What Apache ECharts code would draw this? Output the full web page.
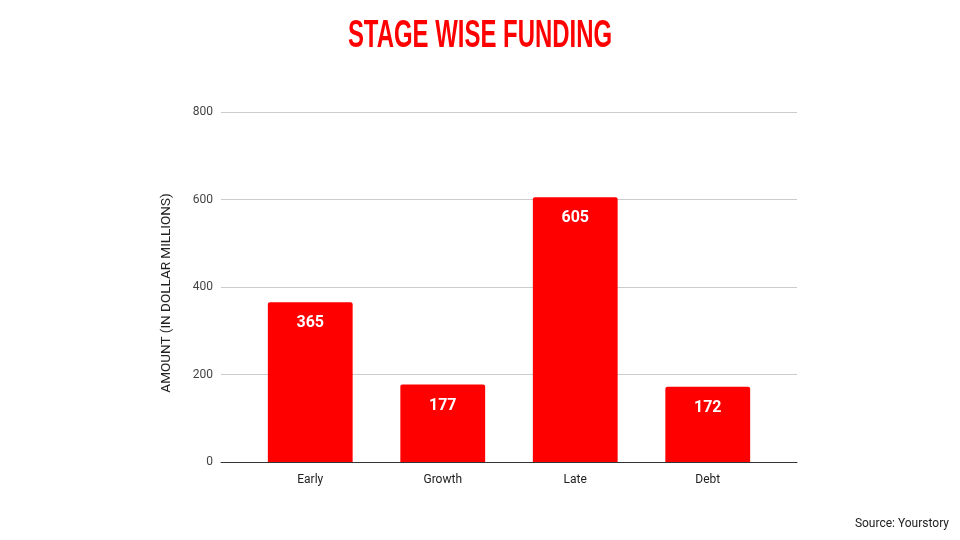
<!DOCTYPE html>
<html><head><meta charset="utf-8">
<script src="https://cdn.jsdelivr.net/npm/echarts@6/dist/echarts.min.js"></script>
<style>html,body{margin:0;padding:0;background:#fff}#c{width:960px;height:540px}</style>
</head><body><div id="c"></div>
<script>
const categories = ['Early', 'Growth', 'Late', 'Debt'];
const amounts = [365, 177, 605, 172];
const yTicks = [0, 200, 400, 600, 800];

const chart = echarts.init(document.getElementById('c'));
chart.setOption({
  animation: false,
  backgroundColor: '#fff',
  graphic: [{
    type: 'text', x: 480, y: 37, scaleX: 0.63, scaleY: 1,
    style: {text: 'STAGE WISE FUNDING', fill: '#ff0000', font: "bold 38px 'Liberation Sans', Arial, sans-serif", textAlign: 'center', textVerticalAlign: 'middle'}
  }, {
    type: 'text', x: 167, y: 293, rotation: Math.PI / 2,
    style: {text: 'AMOUNT (IN DOLLAR MILLIONS)', fill: '#222', font: "13.5px Roboto, sans-serif", textAlign: 'center', textVerticalAlign: 'middle'}
  }],
  title: [{
    text: 'Source: Yourstory',
    right: 6, top: 513,
    textStyle: {color: '#222', fontSize: 12, fontWeight: 'normal', fontFamily: 'Roboto, sans-serif'}
  }],
  grid: [
    {left: 221, right: 163, top: 112, bottom: 78},
    {left: 244, right: 186, top: 112, bottom: 78}
  ],
  xAxis: [
    {gridIndex: 0, type: 'value', min: 0, max: 1, show: true,
     axisLine: {show: true, onZero: false, lineStyle: {color: '#333', width: 1}},
     axisTick: {show: false}, axisLabel: {show: false}, splitLine: {show: false}},
    {gridIndex: 1, type: 'category', data: categories,
     axisLine: {show: false}, axisTick: {show: false},
     axisLabel: {color: '#222', fontSize: 12, fontFamily: 'Roboto, sans-serif', margin: 12}}
  ],
  yAxis: [
    {gridIndex: 0, type: 'value', min: yTicks[0], max: yTicks[yTicks.length - 1], interval: 200,
     axisLine: {show: false}, axisTick: {show: false},
     axisLabel: {color: '#444', fontSize: 12, fontFamily: 'Roboto, sans-serif', margin: 8},
     splitLine: {lineStyle: {color: '#cccccc'}}},
    {gridIndex: 1, type: 'value', min: 0, max: 800, show: false}
  ],
  series: [{
    type: 'bar', xAxisIndex: 1, yAxisIndex: 1,
    data: amounts, barWidth: '64%',
    itemStyle: {color: '#ff0000', borderRadius: [2, 2, 0, 0]},
    label: {show: true, position: 'insideTop', distance: 13, color: '#fff', fontSize: 16, fontWeight: 'bold', fontFamily: 'Roboto, sans-serif'}
  }]
});
</script></body></html>
